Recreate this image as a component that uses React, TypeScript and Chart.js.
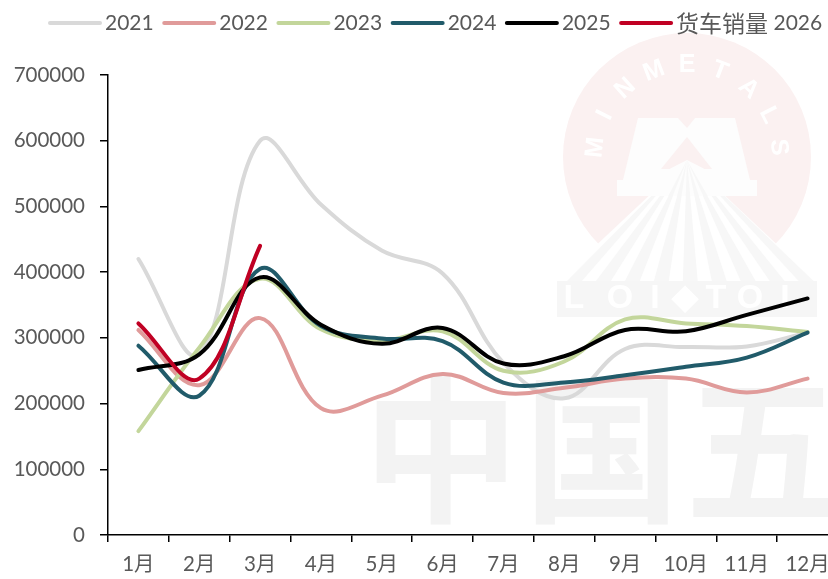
import React, { useEffect, useRef } from "react";
import { Chart, registerables } from "chart.js";

Chart.register(...registerables);

const months = ["1月", "2月", "3月", "4月", "5月", "6月", "7月", "8月", "9月", "10月", "11月", "12月"];
const sales2021 = [420000, 275000, 600000, 503000, 433000, 398000, 262000, 208000, 283000, 286000, 287000, 308000];
const sales2022 = [312000, 228000, 330000, 193000, 212000, 245000, 216000, 224000, 238000, 238000, 217000, 238000];
const sales2023 = [158000, 285000, 390000, 313000, 296000, 310000, 250000, 264000, 328000, 322000, 318000, 309000];
const sales2024 = [288000, 212000, 405000, 318000, 299000, 295000, 232000, 232000, 243000, 256000, 270000, 308000];
const sales2025 = [251000, 275000, 392000, 320000, 291000, 315000, 261000, 272000, 312000, 310000, 335000, 360000];
const sales2026 = [322000, 238000, 440000];

const seriesNames = ["2021", "2022", "2023", "2024", "2025", "货车销量 2026"];
const seriesValues = [sales2021, sales2022, sales2023, sales2024, sales2025, sales2026];
const seriesColors = ["#d9d9d9", "#e09b9a", "#c3d69b", "#215b6a", "#000000", "#c00023"];

const LATIN = '"Lato", "Noto Sans CJK SC", sans-serif';
const CJK = '"Noto Sans CJK SC", sans-serif';
const TEXT = "#595959";

const watermark = {
  id: "watermark",
  beforeDraw(chart: any) {
    const c = chart.ctx;
    c.save();
    c.fillStyle = "#fbf1f1";
    c.beginPath();
    c.arc(687, 157, 124, 0, Math.PI * 2);
    c.fill();
    const letters = "MINMETALS".split("");
    c.fillStyle = "#ffffff";
    c.font = 'bold 25px "Liberation Sans", sans-serif';
    c.textAlign = "center";
    c.textBaseline = "middle";
    letters.forEach((l, i) => {
      const a = ((i - 4) * 21 * Math.PI) / 180;
      c.save();
      c.translate(687 + Math.sin(a) * 92, 157 - Math.cos(a) * 92);
      c.rotate(a);
      c.fillText(l, 0, 0);
      c.restore();
    });
    const apexX = 687;
    const apexY = 160;
    c.fillStyle = "#ffffff";
    c.beginPath();
    c.moveTo(apexX, apexY);
    c.lineTo(817, 282);
    c.lineTo(557, 282);
    c.closePath();
    c.fill();
    c.fillStyle = "#f7f7f7";
    for (let i = 0; i < 9; i++) {
      const x0 = 557 + i * 29.2;
      c.beginPath();
      c.moveTo(apexX, apexY);
      c.lineTo(x0 + 24, 282);
      c.lineTo(x0 + 9, 282);
      c.closePath();
      c.fill();
    }
    c.fillStyle = "#fdfdfd";
    c.beginPath();
    [[638, 118], [678, 118], [687, 128], [695, 118], [735, 118], [750, 180], [757, 180], [757, 196], [617, 196], [617, 180], [623, 180]].forEach(
      ([x, y], i) => (i ? c.lineTo(x, y) : c.moveTo(x, y))
    );
    c.closePath();
    c.fill();
    c.fillStyle = "#fbf1f1";
    c.beginPath();
    c.moveTo(687, 137);
    c.lineTo(712, 169);
    c.lineTo(661, 169);
    c.closePath();
    c.fill();
    c.fillStyle = "#fdfdfd";
    c.beginPath();
    c.moveTo(687, 160);
    c.lineTo(757, 196);
    c.lineTo(617, 196);
    c.closePath();
    c.fill();
    c.fillStyle = "#f7f7f7";
    for (let i = 2; i < 7; i++) {
      const x0 = 557 + i * 29.2;
      c.beginPath();
      c.moveTo(apexX, apexY);
      c.lineTo(apexX + (x0 + 24 - apexX) * 0.3, apexY + 36);
      c.lineTo(apexX + (x0 + 9 - apexX) * 0.3, apexY + 36);
      c.closePath();
      c.fill();
    }
    c.fillStyle = "#f6f6f6";
    c.fillRect(557, 281, 260, 36);
    c.fillStyle = "#ffffff";
    c.font = 'bold 34px "Liberation Sans", sans-serif';
    [[574, 299, "L"], [620, 299, "O"], [655, 299, "I"], [685, 299, "◆"], [716, 299, "T"], [750, 299, "O"], [785, 299, "I"]].forEach(([x, y, t]: any) => {
      c.fillText(t, x, y);
    });
    c.fillStyle = "#f3f3f3";
    c.font = `bold 156px ${CJK}`;
    ["中", "国", "五"].forEach((t, i) => {
      c.save();
      c.translate(441 + i * 161, 449);
      c.scale(1, 1.03);
      c.fillText(t, 0, 0);
      c.restore();
    });
    c.restore();
  },
};

const topLegend = {
  id: "topLegend",
  afterDraw(chart: any) {
    const c = chart.ctx;
    c.save();
    c.textBaseline = "middle";
    c.textAlign = "left";
    let x = 48;
    const y = 23;
    chart.data.datasets.forEach((d: any) => {
      c.strokeStyle = d.borderColor;
      c.lineWidth = 4;
      c.lineCap = "round";
      c.beginPath();
      c.moveTo(x + 2, y);
      c.lineTo(x + 52, y);
      c.stroke();
      x += 57;
      c.fillStyle = TEXT;
      (d.label.match(/[\u4e00-\u9fff]+|[^\u4e00-\u9fff]+/g) || []).forEach((part: string) => {
        const isCjk = /[\u4e00-\u9fff]/.test(part);
        c.font = isCjk ? `23px ${CJK}` : `21px ${LATIN}`;
        c.fillText(part, x, y);
        x += c.measureText(part).width;
      });
      x += 8.5;
    });
    c.restore();
  },
};

export default function App() {
  const ref = useRef<HTMLCanvasElement>(null);
  useEffect(() => {
    document.body.style.margin = "0";
    const chart = new Chart(ref.current!, {
      type: "line",
      data: {
        labels: months,
        datasets: seriesNames.map((label, i) => ({
          label,
          data: seriesValues[i],
          borderColor: seriesColors[i],
          backgroundColor: seriesColors[i],
          borderWidth: 4,
          borderCapStyle: "round" as const,
          pointRadius: 0,
          tension: 0.38,
          order: seriesNames.length - i,
        })),
      },
      options: {
        animation: false,
        responsive: false,
        layout: { padding: { top: 75, right: 22, left: 0, bottom: 0 } },
        plugins: { legend: { display: false }, tooltip: { enabled: false } },
        scales: {
          x: {
            type: "category",
            offset: true,
            border: { color: "#000000", width: 1.5 },
            grid: { offset: true, drawOnChartArea: false, color: "#000000", lineWidth: 1.5, tickLength: 7, tickWidth: 1.5 },
            ticks: { color: TEXT, font: { family: LATIN, size: 20.5 }, padding: 10, maxRotation: 0, autoSkip: false },
            afterFit: (s: any) => {
              s.height = 44;
            },
          },
          y: {
            min: 0,
            max: 700000,
            border: { color: "#000000", width: 1.5 },
            grid: { drawOnChartArea: false, color: "#000000", lineWidth: 1.5, tickLength: 8, tickWidth: 1.5 },
            ticks: { stepSize: 100000, color: TEXT, font: { family: LATIN, size: 20.5 }, padding: 15, callback: (v: any) => String(v) },
            afterFit: (s: any) => {
              s.width = 108;
            },
          },
        },
      },
      plugins: [watermark, topLegend],
    } as any);
    return () => chart.destroy();
  }, []);
  return (
    <div style={{ position: "fixed", left: 0, top: 0, width: 828, height: 579, overflow: "hidden", background: "#fff" }}>
      <canvas ref={ref} width={860} height={579} style={{ display: "block" }} />
    </div>
  );
}
